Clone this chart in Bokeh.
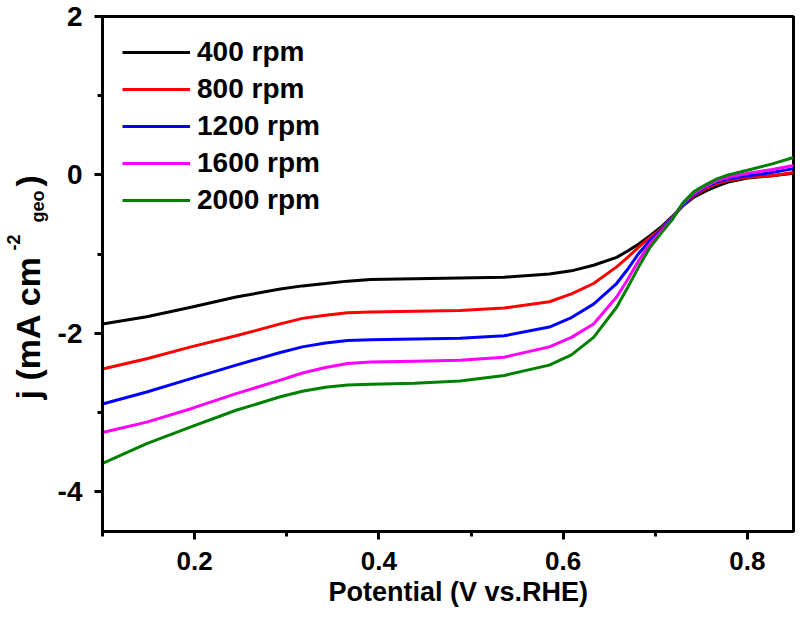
import numpy as np
from bokeh.plotting import figure
from bokeh.models import FixedTicker, Label, Range1d, Title
from bokeh.layouts import row
from bokeh.embed import file_html
from bokeh.resources import INLINE

# ---- data ----
potential = [0.1, 0.148, 0.196, 0.245, 0.293, 0.317, 0.342, 0.366, 0.391, 0.439,
             0.488, 0.536, 0.585, 0.609, 0.633, 0.658, 0.670, 0.682, 0.694, 0.706,
             0.718, 0.730, 0.742, 0.755, 0.767, 0.779, 0.80, 0.827, 0.85]
j_400 = [-1.88, -1.79, -1.67, -1.54, -1.44, -1.40, -1.37, -1.34, -1.32, -1.31,
         -1.30, -1.29, -1.25, -1.21, -1.14, -1.04, -0.96, -0.87, -0.77, -0.66,
         -0.53, -0.39, -0.28, -0.20, -0.14, -0.09, -0.04, -0.01, 0.02]
j_800 = [-2.45, -2.32, -2.17, -2.03, -1.88, -1.81, -1.77, -1.74, -1.73, -1.72,
         -1.71, -1.68, -1.60, -1.50, -1.37, -1.16, -1.04, -0.91, -0.79, -0.68,
         -0.54, -0.38, -0.26, -0.17, -0.11, -0.07, -0.03, -0.01, 0.03]
j_1200 = [-2.89, -2.74, -2.57, -2.40, -2.24, -2.17, -2.12, -2.09, -2.08, -2.07,
          -2.06, -2.03, -1.92, -1.80, -1.63, -1.37, -1.19, -0.99, -0.83, -0.70,
          -0.55, -0.37, -0.25, -0.15, -0.09, -0.05, -0.01, 0.03, 0.08]
j_1600 = [-3.25, -3.12, -2.95, -2.76, -2.59, -2.50, -2.43, -2.38, -2.36, -2.35,
          -2.34, -2.30, -2.17, -2.05, -1.88, -1.54, -1.32, -1.08, -0.87, -0.72,
          -0.56, -0.36, -0.23, -0.14, -0.07, -0.03, 0.02, 0.07, 0.12]
j_2000 = [-3.64, -3.39, -3.18, -2.97, -2.80, -2.73, -2.68, -2.65, -2.64, -2.63,
          -2.60, -2.53, -2.40, -2.27, -2.05, -1.67, -1.42, -1.16, -0.92, -0.74,
          -0.57, -0.35, -0.21, -0.12, -0.05, 0.00, 0.06, 0.14, 0.22]

series_labels = ["400 rpm", "800 rpm", "1200 rpm", "1600 rpm", "2000 rpm"]
series_colors = ["#000000", "#FF0000", "#0000FF", "#FF00FF", "#008000"]
series_values = [j_400, j_800, j_1200, j_1600, j_2000]

x_major = [0.2, 0.4, 0.6, 0.8]
x_minor = [0.1, 0.3, 0.5, 0.7]
y_major = [-4, -2, 0, 2]
y_minor = [-3, -1, 1]
y_tick_labels = {-4: "-4", -2: "-2", 0: "0", 2: "2"}
x_tick_labels = {0.2: "0.2", 0.4: "0.4", 0.6: "0.6", 0.8: "0.8"}

FONT = "Liberation Sans"
H = 617
TOP = 16
BOTTOM = 86
TW = 54  # width of the y-title strip

y_range = Range1d(-4.5, 2.0)

p = figure(width=800 - TW, height=H, output_backend="svg", toolbar_location=None,
           x_range=Range1d(0.1, 0.85), y_range=y_range,
           min_border_left=101 - TW, min_border_right=7, min_border_top=TOP,
           min_border_bottom=BOTTOM)
p.background_fill_color = "white"
p.border_fill_color = "white"
p.grid.visible = False
p.outline_line_color = "black"
p.outline_line_width = 3

for lab, col, vals in zip(series_labels, series_colors, series_values):
    p.line(potential, vals, line_color=col, line_width=3, legend_label=lab)

for ax in (p.xaxis[0], p.yaxis[0]):
    ax.axis_line_width = 3
    ax.major_tick_line_width = 3
    ax.minor_tick_line_width = 3
    ax.major_tick_out = 8
    ax.major_tick_in = 0
    ax.minor_tick_out = 5
    ax.minor_tick_in = 0
    ax.major_label_text_font = FONT
    ax.major_label_text_font_style = "bold"
    ax.major_label_text_color = "black"

p.xaxis[0].ticker = FixedTicker(ticks=x_major, minor_ticks=x_minor)
p.yaxis[0].ticker = FixedTicker(ticks=y_major, minor_ticks=y_minor)
p.xaxis[0].major_label_overrides = x_tick_labels
p.yaxis[0].major_label_overrides = y_tick_labels
p.xaxis[0].major_label_text_font_size = "26px"
p.yaxis[0].major_label_text_font_size = "28px"
p.xaxis[0].major_label_standoff = 12
p.yaxis[0].major_label_standoff = 12

# x axis title
xt = Title(text="Potential (V vs.RHE)", align="left", offset=226, standoff=4,
           text_font=FONT, text_font_style="bold", text_font_size="27px",
           text_color="black")
p.add_layout(xt, "below")

lg = p.legend[0]
lg.location = "top_left"
lg.margin = 0
lg.padding = 20
lg.spacing = 5
lg.glyph_width = 68
lg.glyph_height = 32
lg.label_height = 32
lg.label_standoff = 7
lg.label_text_font = FONT
lg.label_text_font_style = "bold"
lg.label_text_font_size = "28px"
lg.label_text_color = "black"
lg.border_line_alpha = 0
lg.background_fill_alpha = 0

# y-title strip (a separate, axis-less figure sharing the y range)
t = figure(width=TW, height=H, output_backend="svg", toolbar_location=None,
           x_range=Range1d(0, TW), y_range=y_range,
           min_border_left=0, min_border_right=0, min_border_top=TOP,
           min_border_bottom=BOTTOM)
t.axis.visible = False
t.grid.visible = False
t.outline_line_color = None
t.background_fill_color = "white"
t.border_fill_color = "white"

ang = np.pi / 2
def ylab(x, y, txt, size):
    t.add_layout(Label(x=x, y=y, text=txt, angle=ang, text_align="left",
                       text_baseline="alphabetic", text_font=FONT,
                       text_font_style="bold", text_font_size=size,
                       text_color="black"))

ylab(27, -2.833, "j (mA cm", "34px")
ylab(13, -0.953, "-2", "18px")
ylab(37, -0.600, "geo", "18px")
ylab(27, -0.145, ")", "34px")

layout = row(t, p)
open("out.html", "w").write(file_html(layout, INLINE))
